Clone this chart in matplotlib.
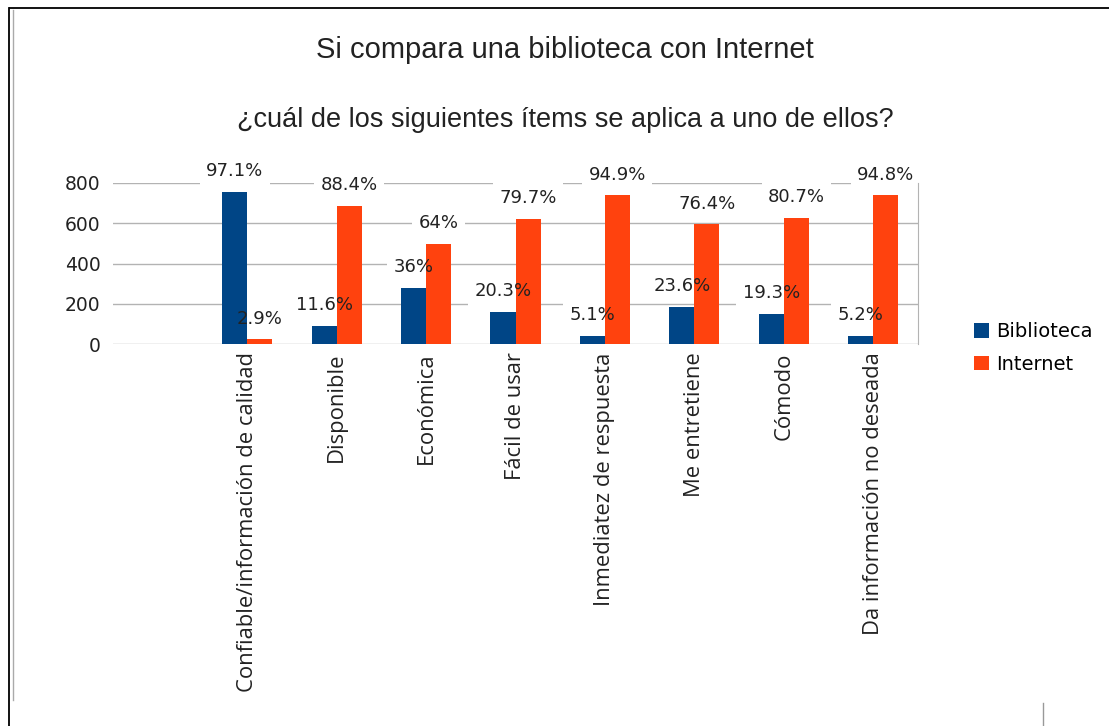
import numpy as np
import matplotlib
matplotlib.use('Agg')
import matplotlib.pyplot as plt
from matplotlib.lines import Line2D

# respuestas por ítem (conteos) y porcentajes que se rotulan
categorias = ['Confiable/información de calidad', 'Disponible', 'Económica',
              'Fácil de usar', 'Inmediatez de respuesta', 'Me entretiene',
              'Cómodo', 'Da información no deseada']
biblioteca = [755, 90, 280, 158, 40, 184, 150, 40]
internet = [23, 688, 498, 620, 738, 594, 628, 738]
pct_biblioteca = ['97.1%', '11.6%', '36%', '20.3%', '5.1%', '23.6%', '19.3%', '5.2%']
pct_internet = ['2.9%', '88.4%', '64%', '79.7%', '94.9%', '76.4%', '80.7%', '94.8%']
yticks = [0, 200, 400, 600, 800]

AZUL = '#004586'
NARANJA = '#ff420e'
GRIS = '#b3b3b3'

fig = plt.figure(figsize=(11.09, 7.26), dpi=100)
ax = fig.add_axes([113 / 1109, 1 - 344 / 726, 805 / 1109, 161 / 726])

x = np.arange(len(categorias))
w = 0.28
ax.bar(x - w / 2, biblioteca, w, color=AZUL, label='Biblioteca', zorder=2)
ax.bar(x + w / 2, internet, w, color=NARANJA, label='Internet', zorder=2)

ax.set_xlim(-1.5, 7.5)
ax.set_ylim(0, 800)
ax.set_yticks(yticks)
ax.set_yticklabels([str(v) for v in yticks], fontsize=13.5, family='DejaVu Sans', color='#222222')
ax.set_xticks(x)
ax.set_xticklabels(categorias, rotation=90, fontsize=15.8, family='Open Sans', color='#222222')
ax.tick_params(length=0, pad=9)
ax.tick_params(axis='x', pad=6)
ax.grid(axis='y', color=GRIS, lw=1, zorder=0.5)
ax.set_axisbelow(True)
for s in ['top', 'left', 'bottom']:
    ax.spines[s].set_visible(False)
ax.spines['right'].set_color(GRIS)


def rotulo(xc, val, txt):
    # fondo blanco que corta la cuadrícula pero queda detrás de las barras
    ax.annotate(txt, (xc, val), xytext=(0, 15), textcoords='offset points',
                ha='center', va='center', fontsize=13, color='white',
                family='DejaVu Sans', zorder=1,
                bbox=dict(boxstyle='square,pad=0.35', fc='white', ec='none'),
                annotation_clip=False)
    ax.annotate(txt, (xc, val), xytext=(0, 15), textcoords='offset points',
                ha='center', va='center', fontsize=13, color='#222222',
                family='DejaVu Sans', zorder=4, annotation_clip=False)


for i in range(len(categorias)):
    rotulo(x[i] - w / 2, biblioteca[i], pct_biblioteca[i])
    rotulo(x[i] + w / 2, internet[i], pct_internet[i])

fig.legend(loc='center left', bbox_to_anchor=(956 / 1109, 1 - 348 / 726),
           frameon=False, handlelength=0.8, handleheight=0.8, handletextpad=0.35,
           labelspacing=0.7, prop={'family': 'DejaVu Sans', 'size': 14})

titulo_fuente = ['Liberation Sans Narrow', 'Liberation Sans']
fig.text(565 / 1109, 1 - 50 / 726, 'Si compara una biblioteca con Internet',
         ha='center', va='center', fontsize=21, family=titulo_fuente, color='#222222')
fig.text(565 / 1109, 1 - 120 / 726, '¿cuál de los siguientes ítems se aplica a uno de ellos?',
         ha='center', va='center', fontsize=19.5, family=titulo_fuente, color='#222222')

# marco de la captura
fig.add_artist(Line2D([10 / 1109, 1], [1 - 8 / 726] * 2, color='black', lw=1.3))
fig.add_artist(Line2D([9 / 1109] * 2, [0, 1 - 8 / 726], color='black', lw=1.3))
fig.add_artist(Line2D([13 / 1109] * 2, [1 - 700 / 726, 1 - 10 / 726], color='#aaaaaa', lw=1))
fig.add_artist(Line2D([1043 / 1109] * 2, [0, 1 - 703 / 726], color='#999999', lw=1))

fig.savefig('out.png', dpi=100, facecolor='white')
